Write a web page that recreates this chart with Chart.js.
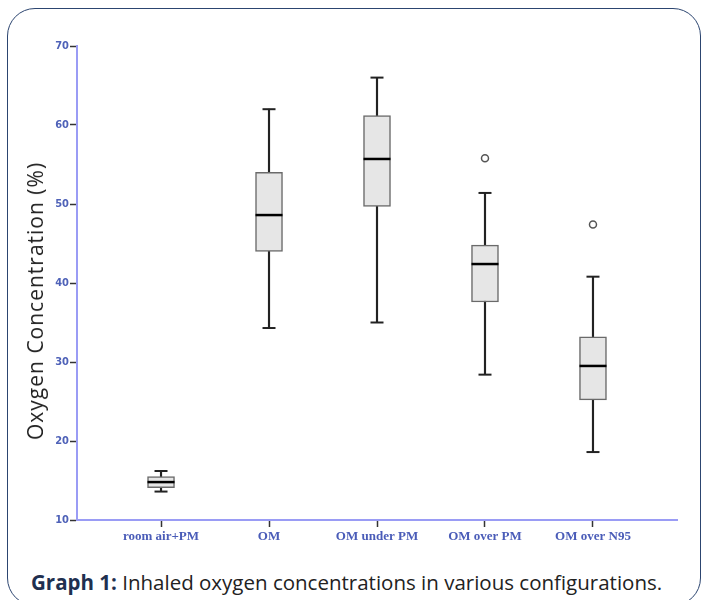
<!DOCTYPE html>
<html>
<head>
<meta charset="utf-8">
<script src="https://cdn.jsdelivr.net/npm/chart.js@4"></script>
<style>
  body { margin: 0; background: #fff; overflow: hidden; }
  #frame {
    position: absolute; left: 7px; top: 8px; width: 694px; height: 598px;
    border: 1px solid #2c4570; border-radius: 28px; box-sizing: border-box;
  }
  #wrap { position: absolute; left: 0; top: 0; width: 702px; height: 560px; }
  #ytitulo {
    position: absolute; left: 35px; top: 301px; white-space: nowrap;
    transform: translate(-50%, -50%) rotate(-90deg);
    font-family: "Open Sans", sans-serif; font-size: 21px; letter-spacing: 1px; color: #222;
  }
  #caption {
    position: absolute; left: 31px; top: 568px; white-space: nowrap;
    font-family: "Open Sans", Lato, sans-serif; font-size: 20.5px; color: #222;
  }
  #caption b { color: #1f3050; font-weight: 700; }
</style>
</head>
<body>
<div id="frame"></div>
<div id="wrap"><canvas id="grafico" width="702" height="560"></canvas></div>
<div id="ytitulo">Oxygen Concentration (%)</div>
<div id="caption"><b>Graph 1:</b> Inhaled oxygen concentrations in various configurations.</div>
<script>
// valores (boxplot)
const categorias = ["room air+PM", "OM", "OM under PM", "OM over PM", "OM over N95"];
const minimo = [13.6, 34.3, 35.0, 28.4, 18.6];
const q1 = [14.1, 44.0, 49.7, 37.6, 25.2];
const mediana = [14.8, 48.6, 55.7, 42.4, 29.5];
const q3 = [15.5, 54.0, 61.2, 44.8, 33.2];
const maximo = [16.2, 62.0, 66.0, 51.4, 40.8];
const outliers = [null, null, null, 55.8, 47.4];
const yTicks = [10, 20, 30, 40, 50, 60, 70];

const pontos = arr => arr.map((v, i) => ({ x: i, y: v }));

const ctx = document.getElementById("grafico").getContext("2d");

new Chart(ctx, {
    data: {
        datasets: [
            {
                type: "line",
                data: pontos(mediana),
                showLine: false,
                pointStyle: "line",
                pointRadius: 13.5,
                pointBorderWidth: 2.5,
                pointBorderColor: "#000",
                order: 0
            },
            {
                type: "line",
                data: pontos(outliers),
                showLine: false,
                pointStyle: "circle",
                pointRadius: 3.5,
                pointBorderWidth: 1.5,
                pointBorderColor: "#555",
                pointBackgroundColor: "#fff",
                order: 1
            },
            {
                type: "bar",
                data: categorias.map((_, i) => ({ x: i, y: [q1[i], q3[i]] })),
                backgroundColor: "#e6e6e6",
                borderColor: "#6a6a6a",
                borderWidth: 1.5,
                borderSkipped: false,
                barThickness: 27,
                grouped: false,
                order: 2
            },
            {
                type: "line",
                data: pontos(maximo).concat(pontos(minimo)),
                showLine: false,
                pointStyle: "line",
                pointRadius: 6.5,
                pointBorderWidth: 2,
                pointBorderColor: "#222",
                order: 3
            },
            {
                type: "bar",
                data: categorias.map((_, i) => ({ x: i, y: [minimo[i], maximo[i]] })),
                backgroundColor: "#222",
                borderWidth: 0,
                barThickness: 1.5,
                grouped: false,
                order: 4
            }
        ]
    },
    options: {
        responsive: false,
        animation: false,
        devicePixelRatio: 1,
        layout: { padding: { left: 7, top: 46, right: 25, bottom: 0 } },
        plugins: { legend: { display: false }, tooltip: { enabled: false } },
        scales: {
            x: {
                type: "linear",
                offset: false,
                min: -0.778,
                max: 4.778,
                afterBuildTicks: s => { s.ticks = categorias.map((_, i) => ({ value: i })); },
                afterFit: s => { s.height = 40; },
                grid: { offset: false, drawOnChartArea: false, tickLength: 7, tickColor: "#333", tickWidth: 1.5 },
                border: { color: "#9a9cf5", width: 2 },
                ticks: {
                    callback: v => categorias[v],
                    autoSkip: false,
                    maxRotation: 0,
                    padding: 2,
                    color: "#4a5cb8",
                    font: { family: "Liberation Serif", size: 13, weight: "bold" }
                }
            },
            y: {
                min: 10,
                max: 70,
                afterBuildTicks: s => { s.ticks = yTicks.map(v => ({ value: v })); },
                afterFit: s => { s.width = 70; },
                grid: { drawOnChartArea: false, tickLength: 7, tickColor: "#333", tickWidth: 1.5 },
                border: { color: "#9a9cf5", width: 2 },
                ticks: {
                    padding: 1,
                    color: "#4f62b8",
                    font: { family: "DejaVu Sans Condensed", size: 11, weight: "bold" }
                }
            }
        }
    }
});
</script>
</body>
</html>
